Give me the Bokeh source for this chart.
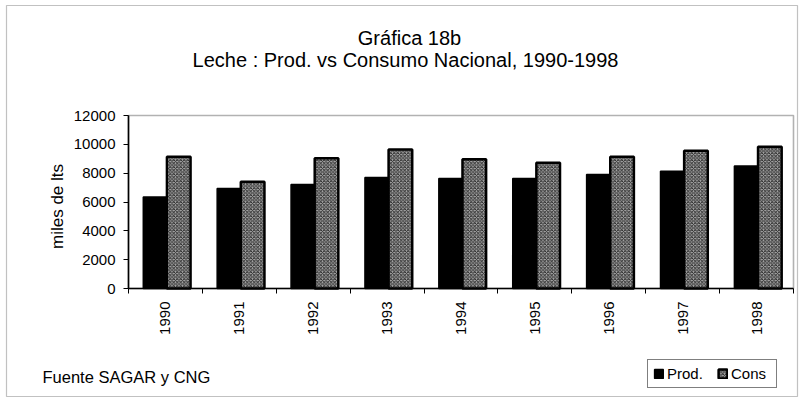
from bokeh.plotting import figure
from bokeh.models import (Range1d, FixedTicker, Label, ColumnDataSource,
                          BoxAnnotation, Legend, LegendItem, LinearAxis)
from bokeh.embed import file_html
from bokeh.resources import INLINE
import math

years = ["1990", "1991", "1992", "1993", "1994", "1995", "1996", "1997", "1998"]
prod = [6350, 6940, 7220, 7700, 7630, 7630, 7910, 8140, 8490]
cons = [9140, 7400, 9030, 9650, 8960, 8720, 9140, 9550, 9830]
y_ticks = [0, 2000, 4000, 6000, 8000, 10000, 12000]

# ---- layout constants (pixels on the page) ----
W, H = 803, 400
AX_L, AX_R, AX_T, AX_B = 128, 793, 115, 288   # plot-area edges
n = len(years)
ymax = y_ticks[-1]
ux = n / (AX_R - AX_L)
uy = ymax / (AX_B - AX_T)


def PX(px):
    return (px - AX_L) * ux


def PY(py):
    return (AX_B - py) * uy


centers = [i + 0.5 for i in range(n)]
bw = 0.32
src = ColumnDataSource(dict(
    xp=[c - bw / 2 + 0.02 for c in centers],
    xc=[c + bw / 2 + 0.02 for c in centers],
    prod=prod, cons=cons))

FONT = "Liberation Sans"
INK = "black"

p = figure(width=W, height=H, output_backend="svg", toolbar_location=None,
           x_range=Range1d(PX(0), PX(W)), y_range=Range1d(PY(H), PY(0)),
           min_border=0, x_axis_location=None, y_axis_location=None)
p.background_fill_color = "white"
p.border_fill_color = "white"
p.outline_line_color = None
p.xgrid.visible = False
p.ygrid.visible = False

# outer frame of the chart
p.add_layout(BoxAnnotation(left=PX(6), right=PX(797), top=PY(5), bottom=PY(396),
                           fill_color=None, line_color="#333333", line_width=1.2))
# plot-area border (top / right)
p.add_layout(BoxAnnotation(left=0, right=n, bottom=0, top=ymax,
                           fill_color=None, line_color="black", line_width=1.6))

rp = p.vbar(x="xp", top="prod", width=bw, source=src, fill_color="black",
            line_color="black", line_width=1.5)
rc = p.vbar(x="xc", top="cons", width=bw, source=src, fill_color="#aaaaaa",
            line_color="black", line_width=2.5, hatch_pattern="x",
            hatch_color="#222222", hatch_scale=3.5, hatch_weight=0.9)

# y axis
ya = LinearAxis(fixed_location=0, bounds=(0, ymax),
                ticker=FixedTicker(ticks=y_ticks))
ya.minor_tick_line_color = None
ya.major_tick_out = 5
ya.major_tick_in = 0
ya.axis_line_width = 1.6
ya.axis_line_color = "black"
ya.major_label_text_font = FONT
ya.major_label_text_font_size = "15px"
ya.major_label_text_color = INK
ya.major_label_standoff = 8
p.add_layout(ya, "left")

# x axis
xa = LinearAxis(fixed_location=0, bounds=(0, n),
                ticker=FixedTicker(ticks=centers, minor_ticks=list(range(n + 1))))
xa.major_label_overrides = {c: y for c, y in zip(centers, years)}
xa.major_tick_out = 0
xa.major_tick_in = 0
xa.minor_tick_out = 5
xa.minor_tick_in = 0
xa.minor_tick_line_color = "black"
xa.axis_line_width = 1.6
xa.axis_line_color = "black"
xa.major_label_orientation = math.pi / 2
xa.major_label_text_font = FONT
xa.major_label_text_font_size = "15px"
xa.major_label_text_color = INK
xa.major_label_standoff = 8
p.add_layout(xa, "below")

# texts
p.add_layout(Label(x=PX(57), y=PY(206), text="miles de lts", angle=math.pi / 2,
                   text_font=FONT, text_font_size="17px", text_color=INK,
                   text_align="center", text_baseline="middle"))
p.add_layout(Label(x=PX(409), y=PY(37), text="Gráfica 18b", text_font=FONT,
                   text_font_size="20px", text_align="center", text_color=INK,
                   text_baseline="middle"))
p.add_layout(Label(x=PX(405), y=PY(59),
                   text="Leche : Prod. vs Consumo Nacional, 1990-1998",
                   text_font=FONT, text_font_size="20px", text_color=INK,
                   text_align="center", text_baseline="middle"))
p.add_layout(Label(x=PX(42), y=PY(376), text="Fuente  SAGAR y CNG",
                   text_font=FONT, text_font_size="16.5px", text_align="left",
                   text_color=INK, text_baseline="middle"))

legend = Legend(items=[LegendItem(label="Prod.", renderers=[rp]),
                       LegendItem(label="Cons", renderers=[rc])],
                orientation="horizontal", location=(647, H - 388),
                label_text_font=FONT, label_text_font_size="15px",
                label_text_color=INK,
                border_line_color="black", border_line_width=1,
                glyph_width=11, glyph_height=11, label_standoff=3,
                label_width=40, label_height=17, spacing=10, padding=5,
                margin=0)
p.add_layout(legend, "center")

open("out.html", "w").write(file_html(p, INLINE))
